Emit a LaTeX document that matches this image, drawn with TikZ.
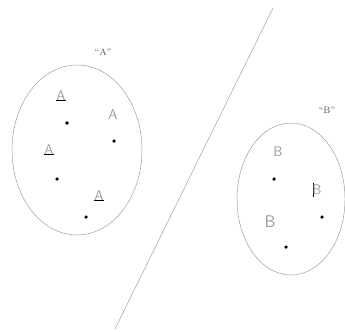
\documentclass[tikz,border=0pt]{standalone}
\usepackage{tikz}
\usetikzlibrary{positioning, calc}
\definecolor{mygray}{HTML}{9A9A9A}
\tikzset{
	setlabel/.style={
			font=\footnotesize,
			text=black!70,
			inner sep=1pt
		},
	classmark/.style={
			font=\sffamily\large,
			text=mygray,
			inner sep=0pt
		},
	sample/.style={
			circle,
			fill=black,
			minimum size=3pt,
			inner sep=0pt
		},
	boundary/.style={
			draw=mygray,
			thin
		}
}
\newcommand{\ulA}{\makebox[0pt][l]{\color{black}\rule[-0.4pt]{\widthof{A}}{0.8pt}}\textcolor{mygray}{A}}
\newcommand{\barB}{\makebox[0pt][l]{\hspace{0.2pt}\color{black}\rule[-0.3ex]{0.9pt}{2.1ex}}\textcolor{mygray}{B}}
\usepackage{calc}

\begin{document}
\begin{tikzpicture}[x=0.03cm, y=-0.03cm]
  \useasboundingbox (0,0) rectangle (345,331);

  % the two clusters
  \draw[boundary] (77,150) ellipse [x radius=65, y radius=85];
  \draw[boundary] (291,199) ellipse [x radius=54, y radius=76];

  \node[setlabel] (labA) at (103,52) {``A''};
  \node[setlabel] (labB) at (327,110) {``B''};

  % samples of class A
  \node[classmark] (a1) at (61,96) {\ulA};
  \node[classmark] (a2) at (113,115) {A};
  \node[classmark] (a3) at (49,150) {\ulA};
  \node[classmark] (a4) at (99,196) {\ulA};
  \node[sample] (p1) at (67,123) {};
  \node[sample] (p2) at (114,141) {};
  \node[sample] (p3) at (57,179) {};
  \node[sample] (p4) at (86,217) {};

  % samples of class B
  \node[classmark] (b1) at (278,152) {B};
  \node[classmark] (b2) at (317,190) {\barB};
  \node[classmark, font=\sffamily\Large] (b3) at (270,222) {B};
  \node[sample] (q1) at (274,179) {};
  \node[sample] (q2) at (322,217) {};
  \node[sample] (q3) at (286,247) {};

  % separating line
  \coordinate (top) at (273,8);
  \coordinate (bot) at (115,329);
  \draw[boundary] (top) -- (bot);

\end{tikzpicture}
\end{document}
